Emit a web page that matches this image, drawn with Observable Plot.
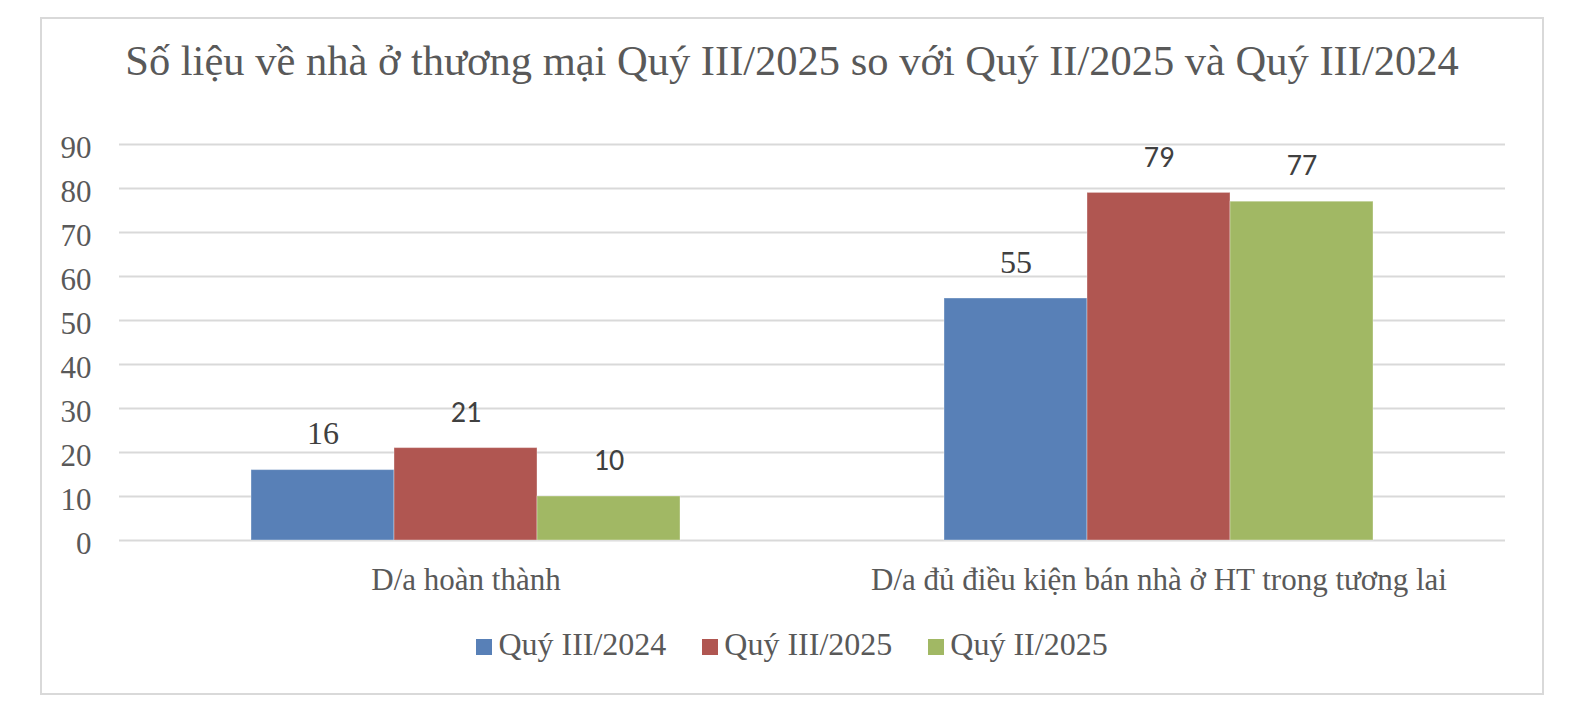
<!DOCTYPE html>
<html>
<head>
<meta charset="utf-8">
<script src="https://cdn.jsdelivr.net/npm/d3@7"></script>
<script src="https://cdn.jsdelivr.net/npm/@observablehq/plot@0.6"></script>
<style>
  html, body { margin: 0; padding: 0; background: #fff; }
  #page { position: relative; width: 1584px; height: 726px; overflow: hidden; }
  #frame { position: absolute; left: 40px; top: 17px; width: 1500px; height: 674px; border: 2px solid #d9d9d9; box-sizing: content-box; }
  #title { position: absolute; left: 40px; width: 1504px; top: 35px; text-align: center;
           font-family: "Liberation Serif", "Times New Roman", serif; font-size: 42.5px; color: #595959; line-height: 52px; white-space: nowrap; }
  #chart { position: absolute; left: 0; top: 0; }
  #legend { position: absolute; left: 40px; width: 1504px; top: 626px; display: flex; justify-content: center; align-items: center;
            font-family: "Liberation Serif", "Times New Roman", serif; font-size: 32px; color: #595959; }
  .item { display: flex; align-items: center; margin: 0 18px; }
  .sw { width: 16px; height: 16px; margin-right: 6px; margin-top: 4px; }
</style>
</head>
<body>
<div id="page">
  <div id="frame"></div>
  <div id="chart"></div>
  <div id="title"></div>
  <div id="legend"></div>
</div>
<script>
const titleText = "Số liệu về nhà ở thương mại Quý III/2025 so với Quý II/2025 và Quý III/2024";
const categories = ["D/a hoàn thành", "D/a đủ điều kiện bán nhà ở HT trong tương lai"];
const seriesNames = ["Quý III/2024", "Quý III/2025", "Quý II/2025"];
const q3_2024 = [16, 55];
const q3_2025 = [21, 79];
const q2_2025 = [10, 77];
const yTicks = [0, 10, 20, 30, 40, 50, 60, 70, 80, 90];
const colors = ["#5880B7", "#B05651", "#A1B864"];

const seriesValues = [q3_2024, q3_2025, q2_2025];
const data = [];
categories.forEach((c, i) => {
  seriesNames.forEach((s, j) => {
    data.push({category: c, series: s, value: seriesValues[j][i]});
  });
});

document.getElementById("title").textContent = titleText;

const serifFont = "'Liberation Serif', 'Times New Roman', serif";
const sansFont = "Carlito, Lato, 'Open Sans', sans-serif";

const chart = Plot.plot({
  width: 1584,
  height: 610,
  marginLeft: 118,
  marginRight: 79,
  marginTop: 144,
  marginBottom: 70,
  style: {fontFamily: serifFont, fontSize: "31px", color: "#595959", background: "transparent", overflow: "visible"},
  fx: {domain: categories, padding: 0, label: null},
  x: {domain: seriesNames, axis: null, paddingInner: 0, paddingOuter: 0.908},
  y: {domain: [0, 90], label: null},
  color: {domain: seriesNames, range: colors},
  marks: [
    Plot.gridY(yTicks, {stroke: "#d9d9d9", strokeOpacity: 1, strokeWidth: 2}),
    Plot.axisY(yTicks, {tickSize: 0, tickPadding: 28, dy: 4, label: null, fill: "#595959", fontSize: 31}),
    Plot.axisFx({anchor: "bottom", tickSize: 0, tickPadding: 27, label: null, fill: "#595959", fontSize: 31}),
    Plot.barY(data, {fx: "category", x: "series", y: "value", fill: "series", stroke: "#ffffff", strokeOpacity: 0.35, strokeWidth: 1}),
    Plot.text(data.filter(d => d.series === seriesNames[0]), {fx: "category", x: "series", y: "value", text: d => String(d.value), dy: -36, fill: "#404040", fontFamily: serifFont, fontSize: 32}),
    Plot.text(data.filter(d => d.series !== seriesNames[0]), {fx: "category", x: "series", y: "value", text: d => String(d.value), dy: -36, fill: "#404040", fontFamily: sansFont, fontSize: 30})
  ]
});
document.getElementById("chart").appendChild(chart);

const legend = document.getElementById("legend");
seriesNames.forEach((s, i) => {
  const item = document.createElement("div");
  item.className = "item";
  const sw = document.createElement("span");
  sw.className = "sw";
  sw.style.background = colors[i];
  const label = document.createElement("span");
  label.textContent = s;
  item.appendChild(sw);
  item.appendChild(label);
  legend.appendChild(item);
});
</script>
</body>
</html>
